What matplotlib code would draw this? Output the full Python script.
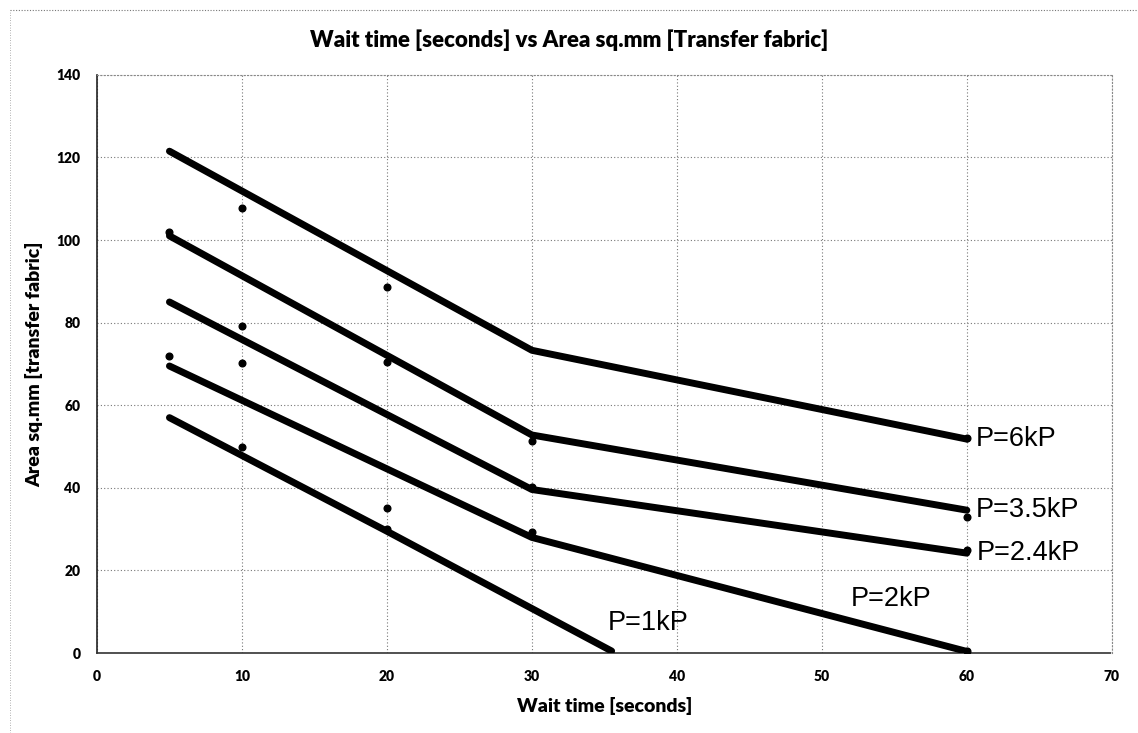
import matplotlib.pyplot as plt
from matplotlib.lines import Line2D

# 趋势线 (每条压力一条折线)
line_x = {
    'P=6kP': [5, 30, 60],
    'P=3.5kP': [5, 30, 60],
    'P=2.4kP': [5, 30, 60],
    'P=2kP': [5, 30, 60],
    'P=1kP': [5, 20, 35.5],
}
line_y = {
    'P=6kP': [121.5, 73.3, 51.8],
    'P=3.5kP': [101, 52.8, 34.6],
    'P=2.4kP': [85, 39.6, 24.2],
    'P=2kP': [69.5, 28, 0.4],
    'P=1kP': [57, 29.5, 0.5],
}

# 测量点
pts_x = [5, 5, 10, 10, 10, 10, 20, 20, 20, 20, 30, 30, 30, 60, 60, 60, 60]
pts_y = [102, 71.8, 107.8, 79.3, 70.3, 50, 88.7, 70.5, 35.2, 30, 51.3, 40.3, 29.2, 52, 33, 25, 0.4]

# 标签位置
label_x = {'P=6kP': 60.6, 'P=3.5kP': 60.6, 'P=2.4kP': 60.7, 'P=2kP': 52.0, 'P=1kP': 35.2}
label_y = {'P=6kP': 51.8, 'P=3.5kP': 34.6, 'P=2.4kP': 24.2, 'P=2kP': 13.0, 'P=1kP': 7.4}

fig = plt.figure(figsize=(11.38, 7.33), dpi=100)
ax = fig.add_axes([0.0852, 0.109, 0.8918, 0.789])

for name in line_x:
    ax.plot(line_x[name], line_y[name], color='black', lw=5,
            solid_capstyle='round', solid_joinstyle='round', zorder=3)
    ax.text(label_x[name], label_y[name], name, fontsize=19.5,
            family='Liberation Sans', va='center', ha='left', zorder=4)

ax.plot(pts_x, pts_y, 'o', color='black', ms=4.8, zorder=4)

ax.set_xlim(0, 70)
ax.set_ylim(0, 140)
ax.set_xticks(range(0, 71, 10))
ax.set_yticks(range(0, 141, 20))
ax.grid(True, color='#777777', linestyle=(0, (1, 2)), lw=0.8)
ax.tick_params(length=0, labelsize=10, pad=12)
for lab in ax.get_xticklabels() + ax.get_yticklabels():
    lab.set_fontweight('heavy')
    lab.set_family('Lato')

for s in ['top', 'right']:
    ax.spines[s].set_color('#888888')
    ax.spines[s].set_linestyle((0, (1, 2)))
    ax.spines[s].set_linewidth(0.8)
ax.spines['bottom'].set_color('#333333')
ax.spines['bottom'].set_linestyle((0, (2, 1)))
ax.spines['bottom'].set_linewidth(1.2)
ax.spines['left'].set_color('#222222')
ax.spines['left'].set_linewidth(1.2)

ax.set_xlabel('Wait time [seconds]', fontsize=14, fontweight='heavy', family='Lato', labelpad=10)
ax.set_ylabel('Area sq.mm [transfer fabric]', fontsize=14, fontweight='heavy', family='Lato', labelpad=9)
fig.text(0.5, 0.945, 'Wait time [seconds] vs Area sq.mm [Transfer fabric]',
         fontsize=16, fontweight='heavy', family='Lato', ha='center', va='center')

# 外框虚线
fig.add_artist(Line2D([0.009, 1.0], [0.987, 0.987], color='#777777', lw=0.8, linestyle=(0, (1, 1.5))))
fig.add_artist(Line2D([0.009, 0.009], [0.0, 0.987], color='#999999', lw=0.6, linestyle=(0, (1, 2))))

fig.savefig('out.png', dpi=100)
